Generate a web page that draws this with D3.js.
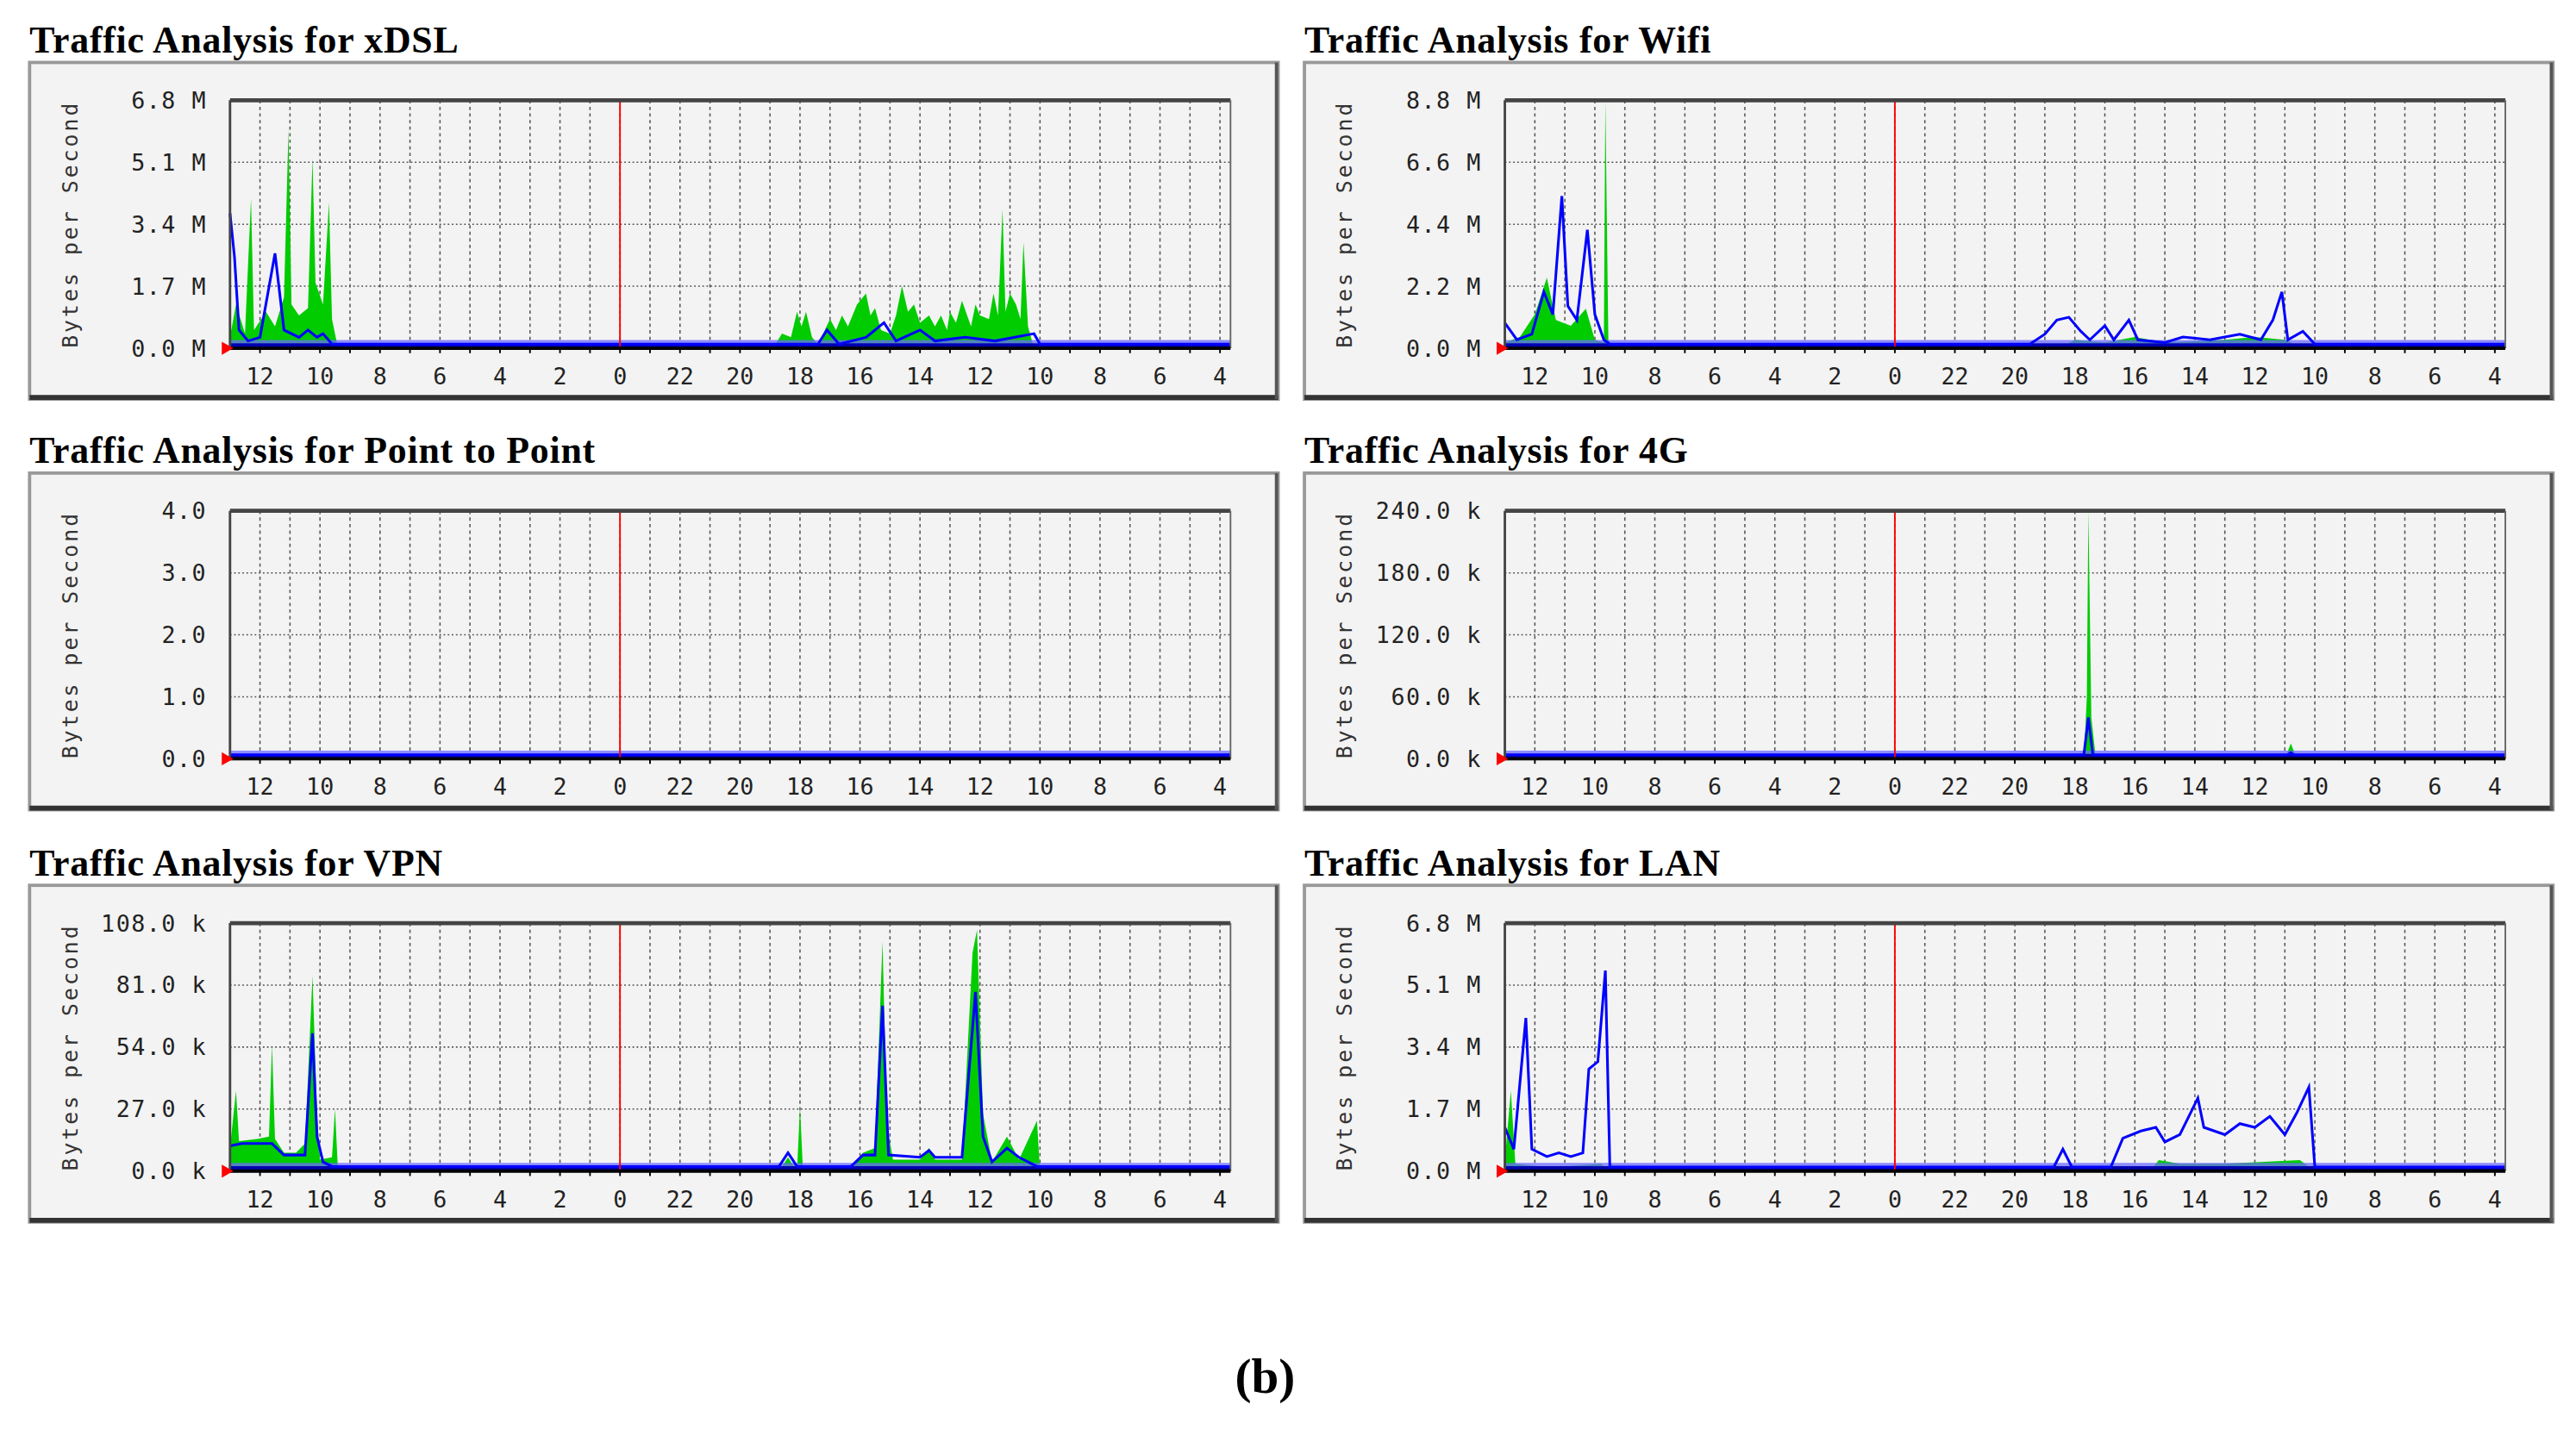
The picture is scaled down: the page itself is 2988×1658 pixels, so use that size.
<!DOCTYPE html>
<html><head><meta charset="utf-8">
<script src="https://cdn.jsdelivr.net/npm/d3@7"></script>
<style>body{margin:0;background:#fff}</style>
</head><body>
<svg id="chart" width="2988" height="1658" viewBox="0 0 1568 870"></svg>
<script>
// time axis: hours counted from the left edge of each plot; labels read hour of day
var hourLabels = [12,10,8,6,4,2,0,22,20,18,16,14,12,10,8,6,4];
var labelPos = [1,3,5,7,9,11,13,15,17,19,21,23,25,27,29,31,33];

var titles = ["xDSL","Wifi","Point to Point","4G","VPN","LAN"];
var yMax = [6.8, 8.8, 4.0, 240, 108, 6.8];
var yTickLabels = [
  ["0.0 M","1.7 M","3.4 M","5.1 M","6.8 M"],
  ["0.0 M","2.2 M","4.4 M","6.6 M","8.8 M"],
  ["0.0","1.0","2.0","3.0","4.0"],
  ["0.0 k","60.0 k","120.0 k","180.0 k","240.0 k"],
  ["0.0 k","27.0 k","54.0 k","81.0 k","108.0 k"],
  ["0.0 M","1.7 M","3.4 M","5.1 M","6.8 M"]
];

// incoming (green area), [hour, value]
var inXDSL = [[0,0.3],[0.2,1.2],[0.5,0.4],[0.7,4.1],[0.8,0.5],[1.2,1.0],[1.5,0.6],[1.8,1.4],[1.95,6.0],[2.05,1.2],[2.3,0.9],[2.6,1.1],[2.75,5.2],[2.85,1.8],[3.1,1.2],[3.3,4.0],[3.4,0.8],[3.6,0],[18.1,0],[18.4,0.4],[18.7,0.3],[18.9,1.0],[19.05,0.6],[19.2,1.0],[19.4,0.3],[19.6,0.1],[20.0,0.8],[20.2,0.5],[20.4,0.9],[20.6,0.6],[20.9,1.2],[21.2,1.5],[21.35,0.9],[21.5,1.1],[21.7,0.5],[22.0,0.4],[22.2,0.9],[22.4,1.7],[22.6,1.0],[22.8,1.2],[23.0,0.7],[23.3,0.9],[23.5,0.6],[23.7,0.9],[23.9,0.5],[24.0,1.0],[24.2,0.7],[24.4,1.3],[24.7,0.6],[24.85,1.2],[25.0,0.9],[25.3,0.8],[25.45,1.5],[25.6,0.9],[25.75,3.8],[25.85,1.0],[26.0,1.5],[26.2,1.2],[26.35,0.8],[26.45,2.9],[26.6,0.6],[26.8,0],[33.35,0]];
var outXDSL = [[0,3.7],[0.15,2.5],[0.3,0.5],[0.6,0.2],[1.0,0.3],[1.5,2.6],[1.8,0.5],[2.3,0.3],[2.6,0.5],[2.9,0.3],[3.1,0.4],[3.4,0.1],[3.6,0.05],[19.6,0.05],[19.9,0.5],[20.3,0.1],[21.2,0.3],[21.8,0.7],[22.2,0.2],[23.0,0.5],[23.5,0.2],[24.5,0.3],[25.5,0.2],[26.8,0.4],[27.0,0.05],[33.35,0.05]];

var inWifi = [[0,0.2],[0.5,0.4],[1.0,1.2],[1.4,2.5],[1.7,1.0],[2.2,0.8],[2.7,1.4],[3.0,0.3],[3.3,0.2],[3.35,8.8],[3.45,0.3],[3.6,0],[18.5,0],[19.0,0.3],[20.0,0.2],[21.0,0.4],[22.0,0.2],[24.0,0.3],[25.0,0.4],[26.0,0.3],[26.6,0],[33.35,0]];
var outWifi = [[0,0.9],[0.4,0.3],[0.9,0.5],[1.3,2.0],[1.6,1.2],[1.9,5.4],[2.1,1.5],[2.4,1.0],[2.75,4.2],[3.0,1.2],[3.3,0.3],[3.5,0.05],[17.5,0.05],[18.0,0.5],[18.4,1.0],[18.8,1.1],[19.2,0.6],[19.5,0.3],[20.0,0.8],[20.3,0.3],[20.8,1.0],[21.1,0.3],[22.0,0.2],[22.6,0.4],[23.5,0.3],[24.5,0.5],[25.2,0.3],[25.6,1.0],[25.9,2.0],[26.1,0.3],[26.6,0.6],[27.0,0.05],[33.35,0.05]];

var inP2P = [[0,0],[33.35,0]];
var outP2P = [[0,0.02],[33.35,0.02]];

var in4G = [[0,0],[19.3,0],[19.4,60],[19.45,240],[19.55,40],[19.7,0],[26.0,0],[26.2,15],[26.4,0],[33.35,0]];
var out4G = [[0,4],[3.2,4],[3.3,2],[19.3,2],[19.45,40],[19.6,2],[26.1,2],[26.2,6],[26.3,2],[33.35,2]];

var inVPN = [[0,10],[0.2,35],[0.3,13],[0.9,14],[1.3,15],[1.4,55],[1.5,14],[1.8,8],[2.2,8],[2.5,12],[2.75,85],[2.9,25],[3.0,5],[3.4,6],[3.5,27],[3.6,0],[18.3,0],[18.6,6],[18.9,0],[19.0,28],[19.1,0],[20.7,0],[21.1,8],[21.5,10],[21.75,100],[21.9,20],[22.1,5],[23.0,5],[23.3,10],[23.5,5],[24.4,5],[24.75,95],[24.9,105],[25.1,25],[25.4,4],[25.9,15],[26.3,5],[26.9,22],[27.0,0],[33.35,0]];
var outVPN = [[0,11],[0.4,12],[1.4,12],[1.8,7],[2.5,7],[2.75,60],[2.9,15],[3.1,4],[3.4,2],[18.3,2],[18.6,8],[18.9,2],[20.7,2],[21.1,7],[21.5,7],[21.75,72],[21.95,7],[23.0,6],[23.3,9],[23.5,6],[24.4,6],[24.85,78],[25.1,15],[25.4,4],[25.9,10],[26.3,6],[26.9,2],[33.35,2]];

var inLAN = [[0,0.3],[0.2,2.2],[0.35,0.2],[1.5,0.1],[3.2,0.2],[3.5,0],[21.5,0],[21.8,0.3],[22.5,0.2],[24.0,0.2],[26.5,0.3],[27.0,0],[33.35,0]];
var outLAN = [[0,1.2],[0.3,0.6],[0.7,4.2],[0.9,0.6],[1.4,0.4],[1.8,0.5],[2.2,0.4],[2.6,0.5],[2.8,2.8],[3.1,3.0],[3.35,5.5],[3.5,0.1],[3.7,0.05],[18.3,0.05],[18.6,0.6],[18.9,0.05],[20.2,0.05],[20.6,0.9],[21.2,1.1],[21.7,1.2],[22.0,0.8],[22.5,1.0],[23.1,2.0],[23.3,1.2],[24.0,1.0],[24.5,1.3],[25.0,1.2],[25.5,1.5],[26.0,1.0],[26.4,1.6],[26.8,2.3],[27.0,0.05],[33.35,0.05]];

var inSeries = [inXDSL, inWifi, inP2P, in4G, inVPN, inLAN];
var outSeries = [outXDSL, outWifi, outP2P, out4G, outVPN, outLAN];

var svg = d3.select("#chart");
var cols = [18, 794], rows = [38, 288, 539];

titles.forEach(function (t, i) {
  var px = cols[i % 2], py = rows[Math.floor(i / 2)];
  var g = svg.append("g").attr("transform", "translate(" + px + "," + py + ")");

  g.append("text").attr("x", 0).attr("y", -6)
    .attr("font-family", "Liberation Serif").attr("font-weight", "bold").attr("font-size", 23)
    .attr("letter-spacing", 0.4)
    .text("Traffic Analysis for " + t);

  // panel frame
  g.append("rect").attr("width", 760).attr("height", 205).attr("fill", "#f3f3f3")
    .attr("stroke", "#999").attr("stroke-width", 2);
  g.append("line").attr("x1", 0).attr("x2", 760).attr("y1", 204).attr("y2", 204).attr("stroke", "#333").attr("stroke-width", 3);
  g.append("line").attr("x1", 759).attr("x2", 759).attr("y1", 0).attr("y2", 205).attr("stroke", "#555").attr("stroke-width", 2);

  var x0 = 122, x1 = 731, yTop = 23, yBot = 174;
  var x = d3.scaleLinear().domain([0, 33.35]).range([x0, x1]);
  var y = d3.scaleLinear().domain([0, yMax[i]]).range([yBot, yTop]);

  // grid
  g.append("g").selectAll("line").data(d3.range(1, 34)).join("line")
    .attr("x1", d => x(d)).attr("x2", d => x(d)).attr("y1", yTop).attr("y2", yBot)
    .attr("stroke", "#555").attr("stroke-width", 0.8).attr("stroke-dasharray", "2,2");
  var yt = d3.range(5).map(k => yMax[i] * k / 4);
  g.append("g").selectAll("line").data(yt.slice(1, 4)).join("line")
    .attr("x1", x0).attr("x2", x1).attr("y1", d => y(d)).attr("y2", d => y(d))
    .attr("stroke", "#555").attr("stroke-width", 0.8).attr("stroke-dasharray", "1,1.5");

  // data
  var inc = inSeries[i], out = outSeries[i];
  g.append("path").datum(inc).attr("fill", "#00cc00")
    .attr("d", d3.area().x(d => x(d[0])).y0(y(0)).y1(d => y(d[1])));
  g.append("rect").attr("x", x0).attr("y", yBot - 5).attr("width", x1 - x0).attr("height", 5).attr("fill", "#6b6bff").attr("opacity", 0.75);
  g.append("rect").attr("x", x0).attr("y", yBot - 3).attr("width", x1 - x0).attr("height", 3).attr("fill", "#0000b0");
  g.append("path").datum(out).attr("fill", "none").attr("stroke", "#0000ff").attr("stroke-width", 1.6)
    .attr("d", d3.line().x(d => x(d[0])).y(d => Math.min(y(d[1]), yBot - 2.5)));

  // midnight line
  g.append("line").attr("x1", x(13)).attr("x2", x(13)).attr("y1", yTop).attr("y2", yBot)
    .attr("stroke", "#ff0000").attr("stroke-width", 1);

  // frame lines
  g.append("line").attr("x1", x0).attr("x2", x1).attr("y1", yTop).attr("y2", yTop).attr("stroke", "#444").attr("stroke-width", 2.5);
  g.append("line").attr("x1", x0).attr("x2", x0).attr("y1", yTop).attr("y2", yBot).attr("stroke", "#444").attr("stroke-width", 1.5);
  g.append("line").attr("x1", x1).attr("x2", x1).attr("y1", yTop).attr("y2", yBot).attr("stroke", "#666").attr("stroke-width", 1);
  g.append("line").attr("x1", x0).attr("x2", x1).attr("y1", yBot).attr("y2", yBot).attr("stroke", "#000").attr("stroke-width", 2);
  g.append("g").selectAll("line").data(d3.range(1, 34)).join("line")
    .attr("x1", d => x(d)).attr("x2", d => x(d)).attr("y1", yBot).attr("y2", yBot + 3)
    .attr("stroke", "#000").attr("stroke-width", 1);
  g.append("path").attr("d", "M" + (x0 - 5) + "," + (yBot - 4) + "L" + (x0 + 2) + "," + yBot + "L" + (x0 - 5) + "," + (yBot + 4) + "Z").attr("fill", "#ff0000");

  // labels
  g.append("g").selectAll("text").data(yt).join("text")
    .attr("x", x0 - 14).attr("y", d => y(d) + 5).attr("text-anchor", "end")
    .attr("font-family", "DejaVu Sans Mono").attr("font-size", 14).attr("letter-spacing", 0.8).attr("fill", "#222")
    .text((d, k) => yTickLabels[i][k]);
  g.append("g").selectAll("text").data(hourLabels).join("text")
    .attr("x", (d, k) => x(labelPos[k])).attr("y", yBot + 22).attr("text-anchor", "middle")
    .attr("font-family", "DejaVu Sans Mono").attr("font-size", 14).attr("fill", "#222")
    .text(d => d);
  g.append("text").attr("transform", "translate(29," + ((yTop + yBot) / 2) + ") rotate(-90)")
    .attr("text-anchor", "middle").attr("font-family", "DejaVu Sans Mono").attr("font-size", 13)
    .attr("letter-spacing", 1.6).attr("fill", "#333")
    .text("Bytes per Second");
});

svg.append("text").attr("x", 770).attr("y", 848).attr("text-anchor", "middle")
  .attr("font-family", "Liberation Serif").attr("font-weight", "bold").attr("font-size", 30).text("(b)");
</script>
</body></html>
